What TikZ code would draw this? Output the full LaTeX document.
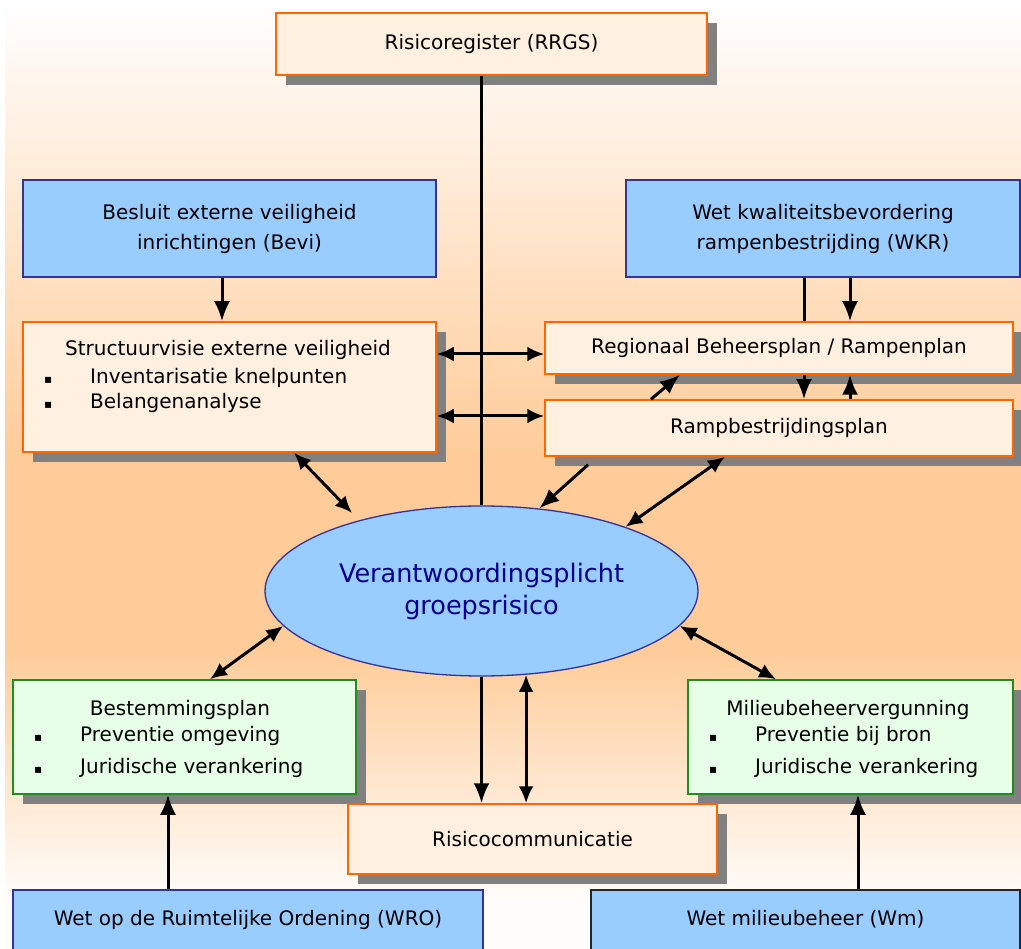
\documentclass[tikz,border=0pt]{standalone}
\usepackage{fontspec}
\setmainfont{DejaVu Sans}
\usetikzlibrary{arrows.meta}
\usetikzlibrary{shapes.geometric}
\usetikzlibrary{shadows}
\definecolor{peachbg}{RGB}{255,204,153}
\definecolor{boxpeach}{RGB}{255,240,224}
\definecolor{boxorange}{RGB}{255,102,0}
\definecolor{lawblue}{RGB}{153,204,255}
\definecolor{lawline}{RGB}{51,51,153}
\definecolor{boxgreen}{RGB}{230,255,230}
\definecolor{greenline}{RGB}{34,139,34}
\definecolor{vgtext}{RGB}{0,0,139}
\definecolor{shadowgray}{RGB}{128,128,128}
\tikzset{sz/.style 2 args = {minimum width=#1, minimum height=#2}}
\tikzset{txt/.style = {font=\fontsize{20}{30}\selectfont, inner sep=0, align=center}}
\tikzset{shad/.style = {drop shadow={shadow xshift=10pt, shadow yshift=-10pt, fill=shadowgray, opacity=1}}}
\tikzset{pbox/.style = {txt, rectangle, draw=boxorange, fill=boxpeach, line width=1.5pt, shad}}
\tikzset{lbox/.style = {txt, rectangle, draw=lawline, fill=lawblue, line width=1.5pt}}
\tikzset{gbox/.style = {txt, rectangle, draw=greenline, fill=boxgreen, line width=1.5pt, shad}}
\tikzset{vgell/.style = {ellipse, draw=lawline, fill=lawblue, line width=1.3pt, inner sep=0,
                         align=center, text=vgtext, font=\fontsize{25.5}{32}\selectfont}}
\tikzset{con/.style = {line width=3pt}}
\tikzset{arr/.style = {con, -{Latex[length=20pt, width=16pt]}}}
\tikzset{dbl/.style = {con, {Latex[length=17pt, width=15pt]}-{Latex[length=17pt, width=15pt]}}}
\newcommand{\blt}{\makebox[46pt][l]{\fontsize{12}{12}\selectfont ▪}}

\begin{document}
\begin{tikzpicture}[x=1pt, y=-1pt]
  \useasboundingbox (0,0) rectangle (1021,949);
  % achtergrond
  \fill[top color=white, bottom color=peachbg] (5,0) rectangle (1021,455);
  \fill[peachbg] (5,454) rectangle (1021,651);
  \fill[top color=peachbg, bottom color=white!96!peachbg] (5,650) rectangle (1021,900);
  \fill[white!96!peachbg] (5,899) rectangle (1021,949);

  \node[pbox, sz={431pt}{62pt}] (rrgs) at (491.5,44) {Risicoregister (RRGS)};
  \node[lbox, sz={413pt}{97pt}] (bevi) at (229.5,228.5) {Besluit externe veiligheid\\inrichtingen (Bevi)};
  \node[lbox, sz={394pt}{97pt}] (wkr) at (823,228.5) {Wet kwaliteitsbevordering\\rampenbestrijding (WKR)};

  \node[pbox, sz={413pt}{130pt}] (sv) at (229.5,387) {};
  \node[txt] (svt) at (228,350) {Structuurvisie externe veiligheid};
  \node[txt, align=left, anchor=west, font=\fontsize{20}{25}\selectfont] (svl) at (44,390)
    {\blt Inventarisatie knelpunten\\\blt Belangenanalyse};

  \node[pbox, sz={468pt}{52pt}] (regio) at (779,348) {Regionaal Beheersplan / Rampenplan};
  \node[pbox, sz={468pt}{56pt}] (ramp) at (779,428) {Rampbestrijdingsplan};

  \node[vgell, sz={433pt}{170pt}] (vg) at (481.5,591) {Verantwoordingsplicht\\groepsrisico};

  \node[gbox, sz={343pt}{114pt}] (bp) at (184.5,737) {};
  \node[txt] (bpt) at (180,710) {Bestemmingsplan};
  \node[txt, align=left, anchor=west, font=\fontsize{20}{32}\selectfont] (bpl) at (34,752)
    {\blt Preventie omgeving\\\blt Juridische verankering};

  \node[gbox, sz={325pt}{114pt}] (mbv) at (850.5,737) {};
  \node[txt] (mbvt) at (848,710) {Milieubeheervergunning};
  \node[txt, align=left, anchor=west, font=\fontsize{20}{32}\selectfont] (mbvl) at (709,752)
    {\blt Preventie bij bron\\\blt Juridische verankering};

  \node[pbox, sz={369pt}{70pt}] (rc) at (532.5,839) {Risicocommunicatie};
  \node[lbox, sz={470pt}{70pt}, text depth=15pt] (wro) at (248,925) {Wet op de Ruimtelijke Ordening (WRO)};
  \node[lbox, draw=black!85, sz={429pt}{70pt}, text depth=15pt] (wm) at (805.5,925) {Wet milieubeheer (Wm)};

  % verbindingen
  \draw[con] (vg.north |- rrgs.south) -- (vg.north);
  \draw[arr] ([xshift=-7.5pt]bevi.south) -- ([xshift=-7.5pt]sv.north);

  \draw[con] ([xshift=-19pt]wkr.south) -- ([xshift=25pt]regio.north);
  \draw[arr] ([xshift=27pt]wkr.south) -- ([xshift=71pt]regio.north);
  \draw[arr] ([xshift=25pt]regio.south) -- ([xshift=25pt]ramp.north);
  \draw[arr] ([xshift=71pt]ramp.north) -- ([xshift=71pt]regio.south);
  \draw[arr] ([xshift=-128pt]ramp.north) -- ([xshift=-99pt]regio.south);

  \draw[dbl] ([yshift=33pt]sv.east) -- ([yshift=-6pt]regio.west);
  \draw[dbl] ([yshift=-29pt]sv.east) -- ([yshift=12pt]ramp.west);

  \draw[dbl, shorten >=10pt] ([xshift=64.5pt]sv.south) -- (vg.150);
  \draw[arr, shorten <=12pt] ([xshift=-182pt]ramp.south) -- (vg.55);
  \draw[dbl] ([xshift=-54pt]ramp.south) -- (vg.24);
  \draw[dbl] ([xshift=25.5pt]bp.north) -- (vg.190);
  \draw[dbl] ([xshift=-74.5pt]mbv.north) -- (vg.-10);

  \draw[arr] (vg.south) -- (vg.south |- rc.north);
  \draw[dbl] (vg.-62) -- (vg.-62 |- rc.north);

  \draw[arr] ([xshift=-80pt]wro.north) -- ([xshift=-16.5pt]bp.south);
  \draw[arr] ([xshift=52.5pt]wm.north) -- ([xshift=7.5pt]mbv.south);
\end{tikzpicture}
\end{document}
